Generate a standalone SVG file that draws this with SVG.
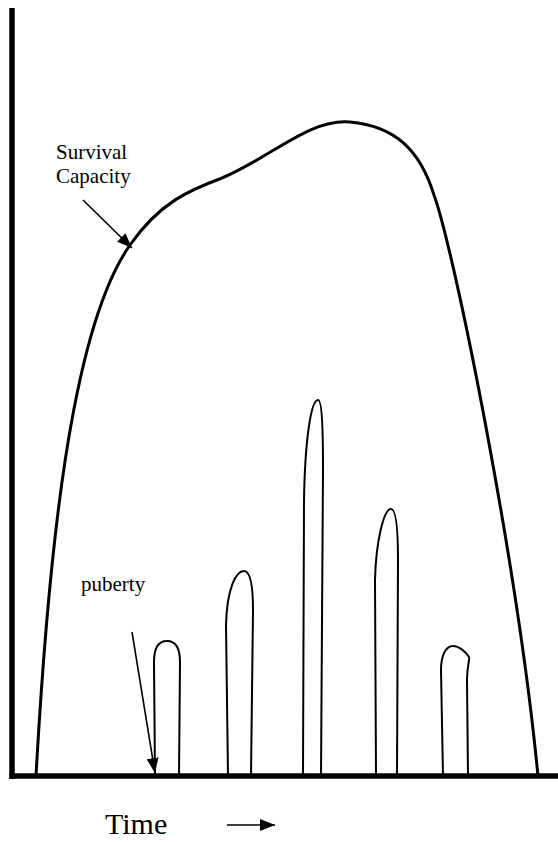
<svg xmlns="http://www.w3.org/2000/svg" width="558" height="842" viewBox="0 0 558 842">
<style>
.axis{stroke:#000;stroke-width:5.5;fill:none}
.curve{stroke:#000;stroke-width:3;fill:none}
.peak{stroke:#000;stroke-width:2;fill:none;stroke-linejoin:round}
.arrow{stroke:#000;stroke-width:1.6;fill:none;marker-end:url(#ah)}
.lbl{font-family:"Liberation Serif","Times New Roman",serif;fill:#000}
</style>
<defs>
<marker id="ah" markerUnits="userSpaceOnUse" markerWidth="16" markerHeight="12" refX="15" refY="6" orient="auto">
<path d="M0,0 L15,6 L0,12 z" fill="#000"/>
</marker>
</defs>
<rect width="558" height="842" fill="#fff"/>
<g id="axes">
<line class="axis" x1="12" y1="8" x2="12" y2="779"/>
<line class="axis" x1="9.5" y1="776" x2="558" y2="776"/>
</g>
<g id="survival-curve">
<path class="curve" d="M36,776 C48,560 70,330 130,245 C160,202 190,190 222,178 C270,158 310,118 350,122 C395,126 420,150 434,195 C454,250 517,560 538,776"/>
</g>
<g id="peaks">
<path class="peak" d="M155,776 L154,662 C154,646 160,641 167,641 C175,641 180,648 180,662 L179,776"/>
<path class="peak" d="M228,776 L226,625 C227,588 236,571 244,571 C250,571 253,585 253,610 L251,776"/>
<path class="peak" d="M303,776 L304,500 C305,440 311,400 318,400 C322,400 323,430 323,470 L321,776"/>
<path class="peak" d="M376,776 L375,580 C376,540 384,509 391,509 C396,509 398,530 398,560 L397,776"/>
<path class="peak" d="M443,776 L441,670 C441,655 446,646 453,646 C459,646 466,652 469,657 C470,660 467,665 467,680 L468,776"/>
</g>
<g id="connectors">
<line class="arrow" x1="83" y1="200" x2="132" y2="248"/>
<line class="arrow" x1="132" y1="632" x2="155" y2="773"/>
<line class="arrow" x1="227" y1="825" x2="275" y2="825"/>
</g>
<g id="label-survival">
<text class="lbl" x="56" y="159" font-size="21">Survival</text>
<text class="lbl" x="56" y="183" font-size="21">Capacity</text>
</g>
<g id="label-puberty">
<text class="lbl" x="81" y="591" font-size="21">puberty</text>
</g>
<g id="label-time">
<text class="lbl" x="105" y="834" font-size="30">Time</text>
</g>
</svg>
